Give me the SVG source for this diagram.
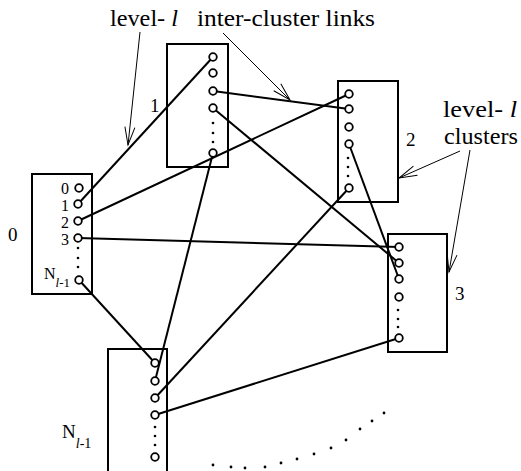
<svg xmlns="http://www.w3.org/2000/svg" width="521" height="471" viewBox="0 0 521 471">
<style>
  text { font-family: "Liberation Serif", "Times New Roman", serif; fill: #000; }
  .ann { font-size: 23px; }
  .lbl { font-size: 19px; }
  .in { font-size: 16px; }
  .box { fill: none; stroke: #000; stroke-width: 2; }
  .port { fill: #fff; stroke: #000; stroke-width: 1.8; }
  .dot { fill: #000; }
  .link { stroke: #000; stroke-width: 2; fill: none; }
  .arw { stroke: #000; stroke-width: 1; fill: none; marker-end: url(#ah); }
  .it { font-style: italic; }
</style>
<defs>
  <marker id="ah" markerWidth="20" markerHeight="12" refX="18" refY="5" orient="auto" markerUnits="userSpaceOnUse" overflow="visible">
    <path d="M0,0 L18,5 L0,10" fill="none" stroke="#000" stroke-width="1"/>
  </marker>
</defs>
<rect width="521" height="471" fill="#fff"/>

<g id="annotations">
  <text class="ann" x="110" y="26" textLength="68" lengthAdjust="spacingAndGlyphs">level- <tspan class="it">l</tspan></text>
  <text class="ann" x="197" y="26" textLength="178" lengthAdjust="spacingAndGlyphs">inter-cluster links</text>
  <text class="ann" x="443" y="117" textLength="74" lengthAdjust="spacingAndGlyphs">level- <tspan class="it">l</tspan></text>
  <text class="ann" x="444" y="144" textLength="74" lengthAdjust="spacingAndGlyphs">clusters</text>
  <line class="arw" x1="140" y1="32" x2="128" y2="145"/>
  <line class="arw" x1="223" y1="33" x2="290" y2="100"/>
  <line class="arw" x1="460" y1="151" x2="399" y2="178"/>
  <line class="arw" x1="470" y1="150" x2="449" y2="272"/>
</g>

<g id="connectors">
  <line class="link" x1="78" y1="204" x2="213" y2="57"/>
  <line class="link" x1="78" y1="221" x2="349" y2="94"/>
  <line class="link" x1="78" y1="238" x2="399" y2="247"/>
  <line class="link" x1="79" y1="280" x2="155" y2="363"/>
  <line class="link" x1="213" y1="91" x2="349" y2="109"/>
  <line class="link" x1="213" y1="108" x2="399" y2="263"/>
  <line class="link" x1="213" y1="153" x2="155" y2="381"/>
  <line class="link" x1="349" y1="144" x2="399" y2="279"/>
  <line class="link" x1="349" y1="188" x2="155" y2="398"/>
  <line class="link" x1="399" y1="338" x2="155" y2="415"/>
</g>

<g id="cluster-0">
  <rect class="box" x="32" y="174" width="60" height="120"/>
  <text class="lbl" x="8" y="241">0</text>
  <text class="in" x="69" y="194" text-anchor="end">0</text>
  <text class="in" x="69" y="211" text-anchor="end">1</text>
  <text class="in" x="69" y="228" text-anchor="end">2</text>
  <text class="in" x="69" y="245" text-anchor="end">3</text>
  <text class="in" x="44" y="279">N<tspan font-size="13" dy="8"><tspan class="it">l</tspan>-1</tspan></text>
  <circle class="port" cx="79" cy="188" r="3.8"/>
  <circle class="port" cx="78" cy="204" r="3.8"/>
  <circle class="port" cx="78" cy="221" r="3.8"/>
  <circle class="port" cx="78" cy="238" r="3.8"/>
  <circle class="dot" cx="78" cy="248" r="1.3"/>
  <circle class="dot" cx="78" cy="258" r="1.3"/>
  <circle class="dot" cx="78" cy="267" r="1.3"/>
  <circle class="port" cx="79" cy="280" r="3.8"/>
</g>

<g id="cluster-1">
  <rect class="box" x="167" y="44" width="61" height="123"/>
  <text class="lbl" x="150" y="112">1</text>
  <circle class="port" cx="213" cy="57" r="3.8"/>
  <circle class="port" cx="213" cy="73" r="3.8"/>
  <circle class="port" cx="213" cy="91" r="3.8"/>
  <circle class="port" cx="213" cy="108" r="3.8"/>
  <circle class="dot" cx="213" cy="123" r="1.3"/>
  <circle class="dot" cx="213" cy="133" r="1.3"/>
  <circle class="dot" cx="213" cy="142" r="1.3"/>
  <circle class="port" cx="213" cy="153" r="3.8"/>
</g>

<g id="cluster-2">
  <rect class="box" x="338" y="81" width="60" height="121"/>
  <text class="lbl" x="406" y="146">2</text>
  <circle class="port" cx="349" cy="94" r="3.8"/>
  <circle class="port" cx="349" cy="109" r="3.8"/>
  <circle class="port" cx="349" cy="127" r="3.8"/>
  <circle class="port" cx="349" cy="144" r="3.8"/>
  <circle class="dot" cx="348" cy="158" r="1.3"/>
  <circle class="dot" cx="348" cy="167" r="1.3"/>
  <circle class="dot" cx="348" cy="176" r="1.3"/>
  <circle class="port" cx="349" cy="188" r="3.8"/>
</g>

<g id="cluster-3">
  <rect class="box" x="388" y="234" width="59" height="118"/>
  <text class="lbl" x="455" y="300">3</text>
  <circle class="port" cx="399" cy="247" r="3.8"/>
  <circle class="port" cx="399" cy="263" r="3.8"/>
  <circle class="port" cx="399" cy="279" r="3.8"/>
  <circle class="port" cx="399" cy="297" r="3.8"/>
  <circle class="dot" cx="398" cy="310" r="1.3"/>
  <circle class="dot" cx="398" cy="319" r="1.3"/>
  <circle class="dot" cx="398" cy="327" r="1.3"/>
  <circle class="port" cx="399" cy="338" r="3.8"/>
</g>

<g id="cluster-N">
  <rect class="box" x="108" y="349" width="59" height="140"/>
  <text class="lbl" x="62" y="438">N<tspan font-size="14" dy="10"><tspan class="it">l</tspan>-1</tspan></text>
  <circle class="port" cx="155" cy="363" r="3.8"/>
  <circle class="port" cx="155" cy="381" r="3.8"/>
  <circle class="port" cx="155" cy="398" r="3.8"/>
  <circle class="port" cx="155" cy="415" r="3.8"/>
  <circle class="dot" cx="155" cy="427" r="1.3"/>
  <circle class="dot" cx="155" cy="436" r="1.3"/>
  <circle class="dot" cx="155" cy="445" r="1.3"/>
  <circle class="port" cx="155" cy="457" r="3.8"/>
</g>

<g id="more-clusters">
  <circle class="dot" cx="213" cy="465" r="1.4"/>
  <circle class="dot" cx="231" cy="467" r="1.4"/>
  <circle class="dot" cx="245" cy="468" r="1.4"/>
  <circle class="dot" cx="265" cy="467" r="1.4"/>
  <circle class="dot" cx="281" cy="463" r="1.4"/>
  <circle class="dot" cx="297" cy="459" r="1.4"/>
  <circle class="dot" cx="314" cy="454" r="1.4"/>
  <circle class="dot" cx="331" cy="448" r="1.4"/>
  <circle class="dot" cx="346" cy="440" r="1.4"/>
  <circle class="dot" cx="360" cy="429" r="1.4"/>
  <circle class="dot" cx="372" cy="421" r="1.4"/>
  <circle class="dot" cx="384" cy="413" r="1.4"/>
</g>
</svg>
